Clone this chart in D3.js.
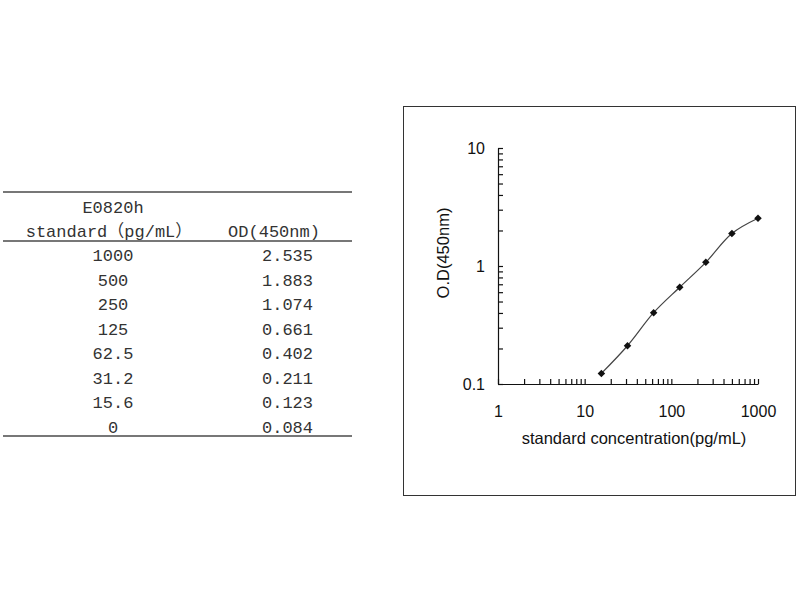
<!DOCTYPE html>
<html>
<head>
<meta charset="utf-8">
<script src="https://cdn.jsdelivr.net/npm/d3@7"></script>
<style>
  body { margin: 0; background: #fff; }
</style>
</head>
<body>
<div id="container"></div>
<script>
var width = 800;
var height = 600;

// table contents
var standardLabels = ["1000", "500", "250", "125", "62.5", "31.2", "15.6", "0"];
var concentrations = [1000, 500, 250, 125, 62.5, 31.2, 15.6, 0];
var odValues = [2.535, 1.883, 1.074, 0.661, 0.402, 0.211, 0.123, 0.084];
var xTickLabels = [1, 10, 100, 1000];
var yTickLabels = [0.1, 1, 10];

var svg = d3.select("#container")
    .append("svg")
    .attr("width", width)
    .attr("height", height);

// ---- table on the left ----
var tableFont = "'Liberation Mono', 'Noto Sans CJK SC', monospace";
var col1 = 113, col2 = 313;

var lines = [192, 241, 436];
svg.selectAll("line.rule")
    .data(lines)
    .enter()
    .append("line")
    .attr("class", "rule")
    .attr("x1", 3)
    .attr("x2", 352)
    .attr("y1", function (d) { return d; })
    .attr("y2", function (d) { return d; })
    .attr("stroke", "#777")
    .attr("stroke-width", 2);

svg.append("text")
    .attr("x", col1)
    .attr("y", 213)
    .attr("text-anchor", "middle")
    .attr("font-family", tableFont)
    .attr("font-size", "17px")
    .attr("fill", "#333")
    .text("E0820h");

svg.append("text")
    .attr("x", 109)
    .attr("y", 237)
    .attr("text-anchor", "middle")
    .attr("font-family", tableFont)
    .attr("font-size", "17px")
    .attr("fill", "#333")
    .text("standard（pg/mL）");

svg.append("text")
    .attr("x", 274)
    .attr("y", 237)
    .attr("text-anchor", "middle")
    .attr("font-family", tableFont)
    .attr("font-size", "17px")
    .attr("fill", "#333")
    .text("OD(450nm)");

var rowY = d3.scaleLinear().domain([0, 7]).range([261, 433]);

svg.selectAll("text.std")
    .data(standardLabels)
    .enter()
    .append("text")
    .attr("class", "std")
    .attr("x", col1)
    .attr("y", function (d, i) { return rowY(i); })
    .attr("text-anchor", "middle")
    .attr("font-family", tableFont)
    .attr("font-size", "17px")
    .attr("fill", "#333")
    .text(function (d) { return d; });

svg.selectAll("text.od")
    .data(odValues)
    .enter()
    .append("text")
    .attr("class", "od")
    .attr("x", col2)
    .attr("y", function (d, i) { return rowY(i); })
    .attr("text-anchor", "end")
    .attr("font-family", tableFont)
    .attr("font-size", "17px")
    .attr("fill", "#333")
    .text(function (d) { return d.toFixed(3); });

// ---- chart on the right ----
svg.append("rect")
    .attr("x", 403.5)
    .attr("y", 106.5)
    .attr("width", 392)
    .attr("height", 389)
    .attr("fill", "none")
    .attr("stroke", "#333")
    .attr("stroke-width", 1);

var xScale = d3.scaleLog().domain([1, 1000]).range([498, 758]);
var yScale = d3.scaleLog().domain([0.1, 10]).range([384, 148]);

var xTicks = [];
[1, 10, 100].forEach(function (p) {
    for (var k = 1; k <= 10; k++) xTicks.push(p * k);
});
xTicks = Array.from(new Set(xTicks));
var yTicks = [];
[0.1, 1].forEach(function (p) {
    for (var k = 1; k <= 10; k++) yTicks.push(+(p * k).toFixed(2));
});
yTicks = Array.from(new Set(yTicks));

var axisFont = "'Liberation Sans', Arial, sans-serif";

var xAxis = d3.axisBottom(xScale)
    .tickValues(xTicks)
    .tickSizeInner(-5)
    .tickSizeOuter(0)
    .tickPadding(22)
    .tickFormat(function (d) { return xTickLabels.indexOf(d) >= 0 ? d : ""; });

var gx = svg.append("g")
    .attr("transform", "translate(0," + yScale(0.1) + ")")
    .call(xAxis);

var yAxis = d3.axisLeft(yScale)
    .tickValues(yTicks)
    .tickSizeInner(-5)
    .tickSizeOuter(0)
    .tickPadding(13)
    .tickFormat(function (d) { return yTickLabels.indexOf(d) >= 0 ? d : ""; });

var gy = svg.append("g")
    .attr("transform", "translate(" + xScale(1) + ",0)")
    .call(yAxis);

[gx, gy].forEach(function (g) {
    g.selectAll("path, line").attr("stroke", "#111").attr("stroke-width", 1.2);
    g.selectAll("text")
        .attr("font-family", axisFont)
        .attr("font-size", "16px")
        .attr("fill", "#111");
});

// curve (zero standard is off the log axis)
var points = concentrations.map(function (c, i) { return [c, odValues[i]]; })
    .filter(function (d) { return d[0] > 0; })
    .sort(function (a, b) { return a[0] - b[0]; });

var line = d3.line()
    .x(function (d) { return xScale(d[0]); })
    .y(function (d) { return yScale(d[1]); })
    .curve(d3.curveCatmullRom.alpha(0.5));

svg.append("path")
    .datum(points)
    .attr("d", line)
    .attr("fill", "none")
    .attr("stroke", "#444")
    .attr("stroke-width", 1.2);

svg.selectAll("path.marker")
    .data(points)
    .enter()
    .append("path")
    .attr("class", "marker")
    .attr("d", d3.symbol().type(d3.symbolDiamond2).size(36))
    .attr("transform", function (d) {
        return "translate(" + xScale(d[0]) + "," + yScale(d[1]) + ")";
    })
    .attr("fill", "#111");

// axis titles
svg.append("text")
    .attr("x", 634)
    .attr("y", 444)
    .attr("text-anchor", "middle")
    .attr("font-family", axisFont)
    .attr("font-size", "16.5px")
    .attr("fill", "#111")
    .text("standard concentration(pg/mL)");

svg.append("text")
    .attr("transform", "rotate(-90)")
    .attr("x", -253)
    .attr("y", 449)
    .attr("text-anchor", "middle")
    .attr("font-family", axisFont)
    .attr("font-size", "16.5px")
    .attr("fill", "#111")
    .text("O.D(450nm)");
</script>
</body>
</html>
